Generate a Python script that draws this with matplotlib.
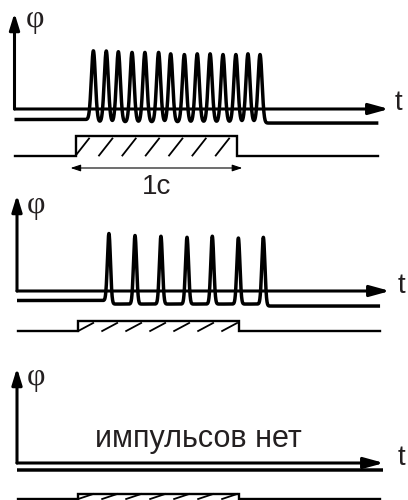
import numpy as np
import matplotlib
matplotlib.use("Agg")
import matplotlib.pyplot as plt

# ---------------- data (time in s, amplitudes relative to first spike) ----------------
STIM_ON = 0.38          # stimulus onset, s
STIM_DUR = 1.0          # stimulus duration, s ("1с")
TRACE_END = 2.26        # end of recorded trace, s

SPIKES_A = [0.49, 0.57, 0.645, 0.73, 0.81, 0.895, 0.97, 1.055,
            1.135, 1.215, 1.295, 1.375, 1.45, 1.525]
AMPS_A = [1.0, 1.0, 0.99, 0.98, 0.98, 0.98, 0.96, 0.95,
          0.96, 0.96, 0.95, 0.95, 0.96, 0.95]

SPIKES_B = [0.571, 0.733, 0.894, 1.056, 1.213, 1.375, 1.530]
AMPS_B = [0.99, 0.965, 0.955, 0.94, 0.955, 0.93, 0.94]

SPIKES_C = []
AMPS_C = []

# baseline shift during / after the burst (relative units)
DIP_TRAIN = [0.035, 0.05, 0.0]
DIP_POST = [0.05, 0.078, 0.0]

LABEL_Y = "\u03c6"
LABEL_T = "t"
LABEL_DUR = "1\u0441"
LABEL_NONE = "импульсов нет"

# ---------------- layout ----------------
W, H = 408, 500
PX_PER_S = 161.0
AMP_PX = 71.0

fig = plt.figure(figsize=(W / 100, H / 100), dpi=100)
fig.patch.set_facecolor("white")

TXT = "#231f20"


def make_ax(x0):
    ax = fig.add_axes([0, 0, 1, 1])
    ax.set_xlim(-x0 / PX_PER_S, (W - x0) / PX_PER_S)
    ax.set_ylim(H, 0)
    ax.axis("off")
    ax.patch.set_alpha(0)
    return ax


def arrow(ax, start, tip, hl=0.65, hw=0.2, lw=2.2, ms=15):
    ax.annotate("", xy=tip, xytext=start,
                arrowprops=dict(arrowstyle=f"-|>,head_length={hl},head_width={hw}",
                                lw=lw, color="black", mutation_scale=ms,
                                shrinkA=0, shrinkB=0))


def trace(ax, y0, spikes, amps, sigma, dip_train, dip_post, t_end):
    t = np.linspace(0, t_end, 8000)
    sig = np.zeros_like(t)
    for ts, a in zip(spikes, amps):
        sig += a * np.exp(-0.5 * ((t - ts) / sigma) ** 2)
    base = np.zeros_like(t)
    if spikes:
        k = 0.004
        on = 1 / (1 + np.exp(-(t - (spikes[0] - 0.01)) / k))
        off = 1 / (1 + np.exp(-(t - (spikes[-1] + 0.02)) / k))
        base = -dip_train * on * (1 - off) - dip_post * off
    ax.plot(t, y0 - AMP_PX * (sig + base), color="black", lw=2.5,
            solid_joinstyle="round", solid_capstyle="butt")


def stimulus(ax, y_lo, y_hi, t_start, t_end, spacing, dx, hatch_h):
    on, off = STIM_ON, STIM_ON + STIM_DUR
    xs = [t_start, on, on, off, off, t_end]
    ys = [y_lo, y_lo, y_hi, y_hi, y_lo, y_lo]
    ax.plot(xs, ys, color="black", lw=1.7, solid_joinstyle="miter")
    x = on
    while x + dx <= off + 0.01:
        ax.plot([x, x + dx], [y_lo, y_lo - hatch_h], color="black", lw=1.3)
        x += spacing


# ---------- panel 1 ----------
ax1 = make_ax(14.5)
arrow(ax1, (0, 109), (0, 13))
arrow(ax1, (0, 109), ((389 - 14.5) / PX_PER_S, 109), hl=0.8, hw=0.22)
ax1.text(0.13, 20, LABEL_Y, family="Liberation Serif", fontsize=23,
         ha="center", va="center", color=TXT)
ax1.text((398 - 14.5) / PX_PER_S, 103, LABEL_T, family="Liberation Sans",
         fontsize=20, ha="center", va="center", color=TXT)
trace(ax1, 119.5, SPIKES_A, AMPS_A, 0.0125, DIP_TRAIN[0], DIP_POST[0], TRACE_END)
stimulus(ax1, 155.5, 136, 0, 2.255, 0.145, 0.083, 17)
ax1.annotate("", xy=(STIM_ON - 0.032, 168), xytext=(STIM_ON + STIM_DUR + 0.035, 168),
             arrowprops=dict(arrowstyle="<|-|>,head_length=0.6,head_width=0.2",
                             lw=0.8, color="black", mutation_scale=10,
                             shrinkA=0, shrinkB=0))
ax1.text(STIM_ON + STIM_DUR / 2, 187, LABEL_DUR, family="Liberation Sans",
         fontsize=20, ha="center", va="center", color=TXT)

# ---------- panel 2 ----------
ax2 = make_ax(17)
arrow(ax2, (0, 291), (0, 195))
arrow(ax2, (0, 291), ((390 - 17) / PX_PER_S, 291), hl=0.8, hw=0.22)
ax2.text(0.12, 205, LABEL_Y, family="Liberation Serif", fontsize=23,
         ha="center", va="center", color=TXT)
ax2.text((401 - 17) / PX_PER_S, 286, LABEL_T, family="Liberation Sans",
         fontsize=20, ha="center", va="center", color=TXT)
trace(ax2, 300.5, SPIKES_B, AMPS_B, 0.0095, DIP_TRAIN[1], DIP_POST[1], 2.255)
stimulus(ax2, 331, 320.5, 0.005, 2.255, 0.149, 0.093, 8)

# ---------- panel 3 ----------
ax3 = make_ax(17)
arrow(ax3, (0, 463), (0, 368))
arrow(ax3, (0, 463), ((384 - 17) / PX_PER_S, 463), hl=0.8, hw=0.22)
ax3.text(0.12, 377, LABEL_Y, family="Liberation Serif", fontsize=23,
         ha="center", va="center", color=TXT)
ax3.text((401 - 17) / PX_PER_S, 458, LABEL_T, family="Liberation Sans",
         fontsize=20, ha="center", va="center", color=TXT)
trace(ax3, 470, SPIKES_C, AMPS_C, 0.01, DIP_TRAIN[2], DIP_POST[2], (383 - 17) / PX_PER_S)
ax3.text((198 - 17) / PX_PER_S, 447, LABEL_NONE, family="Liberation Sans",
         fontsize=22, ha="center", va="baseline", color=TXT)
stimulus(ax3, 499, 493.5, 0.005, 2.255, 0.149, 0.093, 5)

fig.savefig("out.png", dpi=100)
